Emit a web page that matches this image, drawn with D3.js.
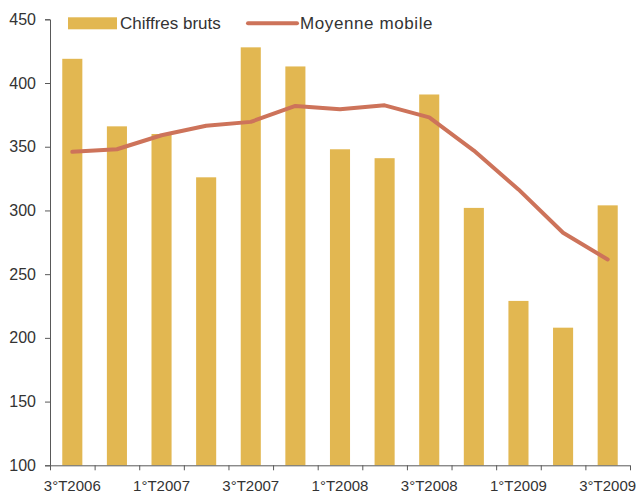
<!DOCTYPE html>
<html><head><meta charset="utf-8">
<script src="https://cdn.jsdelivr.net/npm/d3@7"></script>
<style>body{margin:0;background:#fff}svg{display:block;font-family:"Liberation Sans",Arial,sans-serif}</style>
</head><body>
<svg id="c" width="636" height="493"></svg>
<script>
const categories = ["3°T2006","4°T2006","1°T2007","2°T2007","3°T2007","4°T2007","1°T2008","2°T2008","3°T2008","4°T2008","1°T2009","2°T2009","3°T2009"];
const chiffresBruts = [419, 366, 360, 326, 428, 413, 348, 341, 391, 302, 229, 208, 304];
const moyenneMobile = [346, 348, 359, 366.5, 369.5, 382, 379.5, 382.5, 373, 347, 316.5, 282.5, 261.5];
const yTicks = [100, 150, 200, 250, 300, 350, 400, 450];
const shownLabels = ["3°T2006","1°T2007","3°T2007","1°T2008","3°T2008","1°T2009","3°T2009"];

const svg = d3.select("#c");
const mLeft = 50, mRight = 630, mTop = 19.3, mBottom = 465.3;
const axisColor = "#595959", textColor = "#333";

const x = d3.scaleBand().domain(categories).range([mLeft, mRight]).paddingInner(0.55).paddingOuter(0.275);
const y = d3.scaleLinear().domain([100, 450]).range([mBottom, mTop]);
const xi = d3.scaleLinear().domain([0, categories.length]).range([mLeft, mRight]);

// bars
svg.append("g").selectAll("rect").data(categories).join("rect")
  .attr("x", d => x(d)).attr("width", x.bandwidth())
  .attr("y", (d, i) => y(chiffresBruts[i]))
  .attr("height", (d, i) => y(100) - y(chiffresBruts[i]))
  .attr("fill", "#E2B751");

// line
const line = d3.line().x((d, i) => x(categories[i]) + x.bandwidth() / 2).y(d => y(d));
svg.append("path").datum(moyenneMobile).attr("d", line)
  .attr("fill", "none").attr("stroke", "#CD735A").attr("stroke-width", 4)
  .attr("stroke-linejoin", "round").attr("stroke-linecap", "round");

// y axis
const ya = svg.append("g").attr("transform", `translate(${mLeft},0)`)
  .call(d3.axisLeft(y).tickValues(yTicks).tickSize(5).tickPadding(9).tickFormat(d3.format("d")));
ya.select(".domain").attr("stroke", axisColor);
ya.selectAll(".tick line").attr("stroke", axisColor);
ya.selectAll(".tick text").attr("fill", textColor).style("font-size", "16px").attr("font-family", "Liberation Sans, Arial, sans-serif");

// x axis boundary ticks
const xa = svg.append("g").attr("transform", `translate(0,${mBottom})`)
  .call(d3.axisBottom(xi).tickValues(d3.range(categories.length + 1)).tickSize(5).tickFormat(""));
xa.select(".domain").attr("stroke", axisColor).attr("d", `M${mLeft},0.5H${mRight}`);
xa.selectAll(".tick line").attr("stroke", axisColor);

// x labels
const xl = svg.append("g").attr("transform", `translate(0,${mBottom})`)
  .call(d3.axisBottom(x).tickSize(0).tickPadding(15).tickFormat(d => shownLabels.includes(d) ? d : ""));
xl.select(".domain").remove();
xl.selectAll(".tick text").attr("fill", textColor).style("font-size", "15px").attr("font-family", "Liberation Sans, Arial, sans-serif");

// legend
const lg = svg.append("g");
lg.append("rect").attr("x", 68).attr("y", 17.3).attr("width", 49).attr("height", 12).attr("fill", "#E2B751");
lg.append("text").attr("x", 120).attr("y", 29).text("Chiffres bruts")
  .attr("fill", textColor).style("font-size", "17px");
lg.append("line").attr("x1", 248).attr("x2", 297).attr("y1", 23.3).attr("y2", 23.3)
  .attr("stroke", "#CD735A").attr("stroke-width", 4).attr("stroke-linecap", "round");
lg.append("text").attr("x", 300).attr("y", 29).text("Moyenne mobile")
  .attr("fill", textColor).style("font-size", "17px").style("letter-spacing", "0.6px");
</script>
</body></html>
